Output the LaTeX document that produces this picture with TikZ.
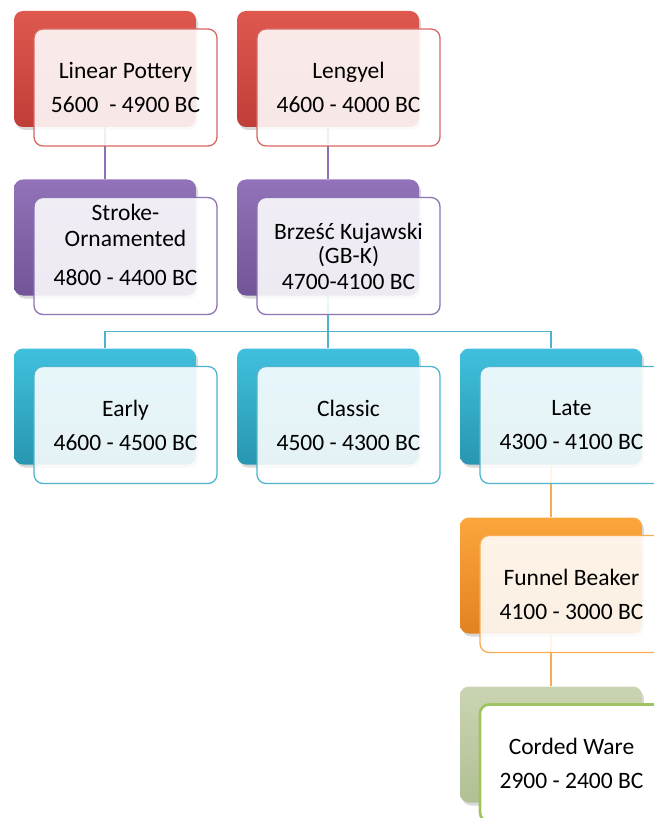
\documentclass[tikz,border=0pt]{standalone}
\usepackage{fontspec}
\setmainfont{Carlito}
\usetikzlibrary{shadows}
\definecolor{redtop}{RGB}{222,88,78}
\definecolor{redbot}{RGB}{192,62,56}
\definecolor{redline}{RGB}{214,104,98}
\definecolor{purtop}{RGB}{146,114,184}
\definecolor{purbot}{RGB}{114,84,152}
\definecolor{purline}{RGB}{140,114,180}
\definecolor{cyatop}{RGB}{64,192,222}
\definecolor{cyabot}{RGB}{40,150,176}
\definecolor{cyaline}{RGB}{78,180,206}
\definecolor{oratop}{RGB}{252,166,60}
\definecolor{orabot}{RGB}{226,130,34}
\definecolor{oraline}{RGB}{250,170,84}
\definecolor{gretop}{RGB}{202,212,178}
\definecolor{grebot}{RGB}{178,192,148}
\definecolor{greline}{RGB}{158,196,96}
\begin{document}
\begin{tikzpicture}[x=1pt, y=1pt,
		back/.style={rounded corners=9pt, inner sep=0pt, minimum width=182pt, minimum height=116pt,
			drop shadow={opacity=0.3, shadow xshift=2pt, shadow yshift=-3pt}},
		front/.style={rounded corners=9pt, inner sep=0pt, minimum width=183pt, minimum height=117pt,
			line width=1.3pt, fill=white, fill opacity=0.88, text opacity=1, align=center, text=black,
			font=\fontsize{23.5}{28}\selectfont},
		link/.style={line width=1.4pt}]
	\useasboundingbox (0,0) rectangle (653,-818);
	% back cards
	\node[back, top color=redtop, bottom color=redbot] (lp-b) at (105,-69) {};
	\node[back, top color=redtop, bottom color=redbot] (le-b) at (328,-69) {};
	\node[back, top color=purtop, bottom color=purbot] (so-b) at (105,-237.5) {};
	\node[back, top color=purtop, bottom color=purbot] (bk-b) at (328,-237.5) {};
	\node[back, top color=cyatop, bottom color=cyabot] (ea-b) at (105,-406.5) {};
	\node[back, top color=cyatop, bottom color=cyabot] (cl-b) at (328,-406.5) {};
	\node[back, top color=cyatop, bottom color=cyabot] (la-b) at (551,-406.5) {};
	\node[back, top color=oratop, bottom color=orabot] (fb-b) at (551,-575.5) {};
	\node[back, top color=gretop, bottom color=grebot] (cw-b) at (551,-744.5) {};
	% connectors
	\draw[link, purline] (lp-b.south) -- (so-b.north);
	\draw[link, purline] (le-b.south) -- (bk-b.north);
	\coordinate (fork) at ([yshift=-35.5pt]bk-b.south);
	\draw[link, cyaline] (bk-b.south) -- (fork) -| (ea-b.north);
	\draw[link, cyaline] (fork) -| (la-b.north);
	\draw[link, cyaline] (fork) -- (cl-b.north);
	\draw[link, oraline] (la-b.south) -- (fb-b.north);
	\draw[link, oraline] (fb-b.south) -- (cw-b.north);
	% front cards
	\node[front, draw=redline] (lp) at ([shift={(20.5,-18.5)}]lp-b.center)
		{Linear Pottery\\[6pt]5600 \ - 4900 BC};
	\node[front, draw=redline] (le) at ([shift={(20.5,-18.5)}]le-b.center)
		{Lengyel\\[6pt]4600 - 4000 BC};
	\node[front, draw=purline] (so) at ([shift={(20.5,-18.5)}]so-b.center)
		{Stroke-\\[-2pt]Ornamented\\[11pt]4800 - 4400 BC\\[-6pt]\mbox{}};
	\node[front, draw=purline] (bk) at ([shift={(20.5,-18.5)}]bk-b.center)
		{Brześć Kujawski\\[-4pt](GB-K)\\[-2pt]4700-4100 BC};
	\node[front, draw=cyaline] (ea) at ([shift={(20.5,-18.5)}]ea-b.center)
		{Early\\[6pt]4600 - 4500 BC};
	\node[front, draw=cyaline] (cl) at ([shift={(20.5,-18.5)}]cl-b.center)
		{Classic\\[6pt]4500 - 4300 BC};
	\node[front, draw=cyaline] (la) at ([shift={(20.5,-18.5)}]la-b.center)
		{Late\\[6pt]4300 - 4100 BC};
	\node[front, draw=oraline] (fb) at ([shift={(20.5,-18.5)}]fb-b.center)
		{Funnel Beaker\\[6pt]4100 - 3000 BC};
	\node[front, draw=greline, fill opacity=1, line width=2.6pt] (cw) at ([shift={(20.5,-18.5)}]cw-b.center)
		{Corded Ware\\[6pt]2900 - 2400 BC};
\end{tikzpicture}
\end{document}
